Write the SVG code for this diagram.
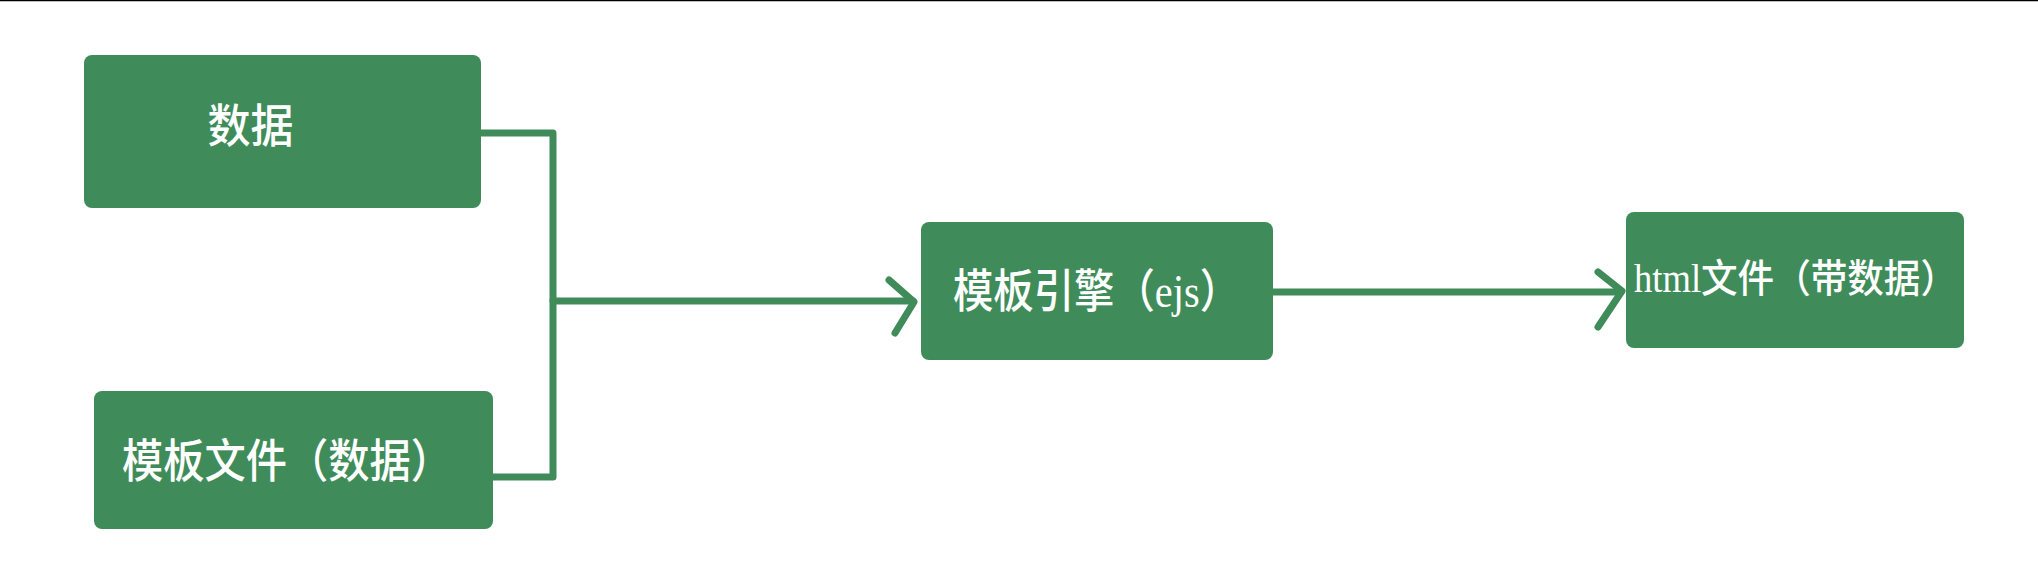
<svg xmlns="http://www.w3.org/2000/svg" width="2038" height="564" viewBox="0 0 2038 564">
<style>
.box{fill:#3f8c5a;}
.lbl{fill:#ffffff;font-family:"Liberation Serif","Noto Sans CJK SC",serif;font-weight:500;text-anchor:middle;dominant-baseline:central;}
.wire{fill:none;stroke:#3f8c5a;stroke-width:7;stroke-linejoin:round;stroke-linecap:round;}
</style>
<rect x="0" y="0" width="2038" height="564" fill="#ffffff"/>
<line x1="0" y1="0.5" x2="2038" y2="0.5" stroke="#000000" stroke-width="1.5"/>
<g id="connectors">
<path class="wire" d="M481 133 H553 V477 H493"/>
<path class="wire" d="M553 301 H913"/>
<path class="wire" d="M889 280 L914 302 L895 333"/>
<path class="wire" d="M1273 292 H1621"/>
<path class="wire" d="M1598 272 L1622 291 L1598 327"/>
</g>
<g id="node-data">
<rect class="box" x="84" y="55" width="397" height="153" rx="8"/>
<text class="lbl" x="250.5" y="126" font-size="46" textLength="86" lengthAdjust="spacingAndGlyphs">数据</text>
</g>
<g id="node-template">
<rect class="box" x="94" y="391" width="399" height="138" rx="8"/>
<text class="lbl" x="287" y="461" font-size="46" textLength="330" lengthAdjust="spacingAndGlyphs">模板文件（数据）</text>
</g>
<g id="node-engine">
<rect class="box" x="921" y="222" width="352" height="138" rx="8"/>
<text class="lbl" x="1096.5" y="291" font-size="46" textLength="287" lengthAdjust="spacingAndGlyphs">模板引擎（ejs）</text>
</g>
<g id="node-html">
<rect class="box" x="1626" y="212" width="338" height="136" rx="8"/>
<text class="lbl" x="1795.5" y="278" font-size="39" textLength="323" lengthAdjust="spacingAndGlyphs">html文件（带数据）</text>
</g>
</svg>
